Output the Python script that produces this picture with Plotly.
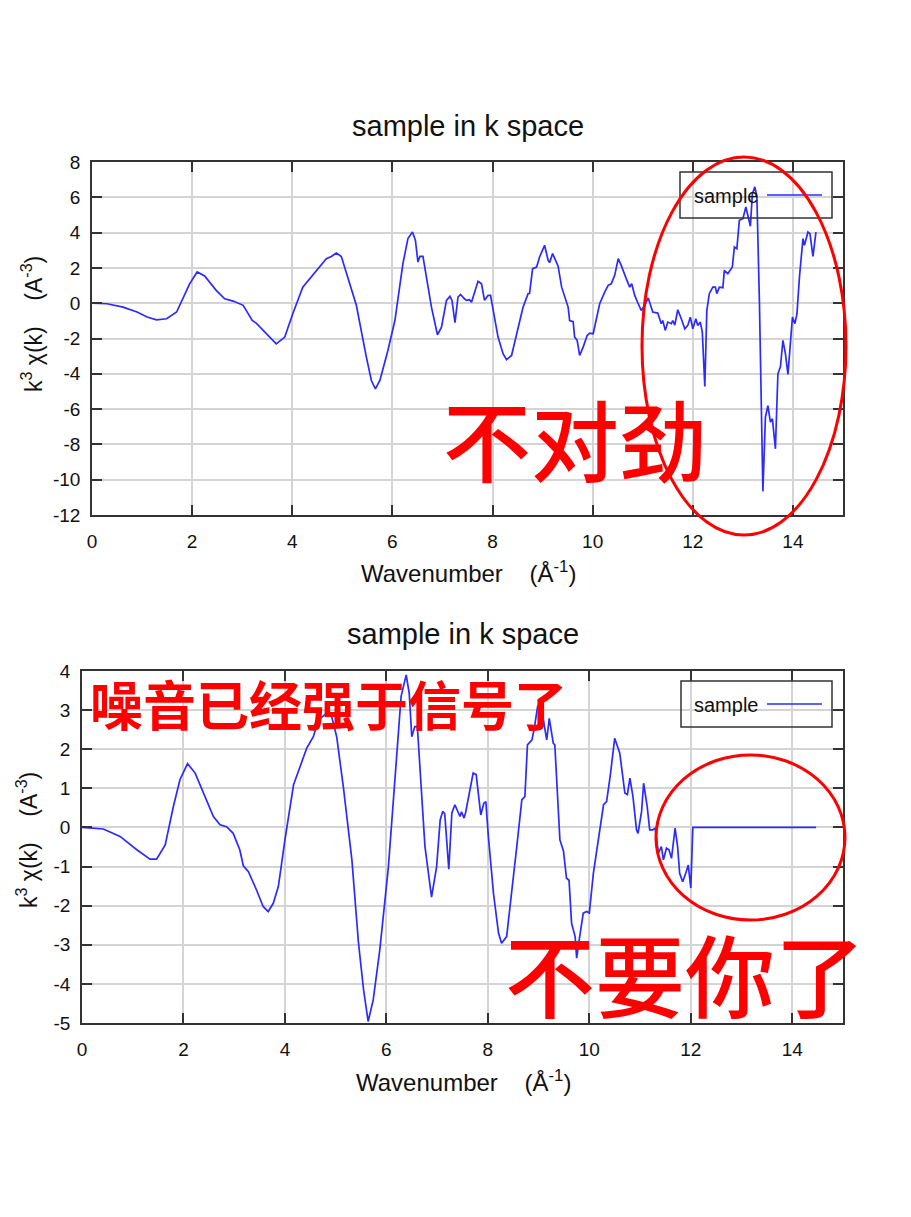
import plotly.graph_objects as go

# ---------------- data ----------------
k_top = [0, 0.3, 0.62, 0.9, 1.1, 1.29, 1.49, 1.69, 1.95, 2.1, 2.25, 2.48, 2.65, 2.82, 3.02, 3.2, 3.28,
         3.48, 3.68, 3.85, 4.01, 4.21, 4.35, 4.55, 4.68, 4.78, 4.88, 4.98, 5.15, 5.28, 5.48, 5.58, 5.66,
         5.75, 5.91, 6.05, 6.21, 6.31, 6.4, 6.46, 6.51, 6.55, 6.61, 6.68, 6.78, 6.9, 6.98, 7.08, 7.15,
         7.19, 7.25, 7.31, 7.36, 7.44, 7.48, 7.54, 7.58, 7.71, 7.78, 7.84, 7.91, 7.96, 8.01, 8.11, 8.21,
         8.28, 8.38, 8.48, 8.61, 8.71, 8.74, 8.8, 8.88, 8.94, 9.04, 9.11, 9.14, 9.2, 9.28, 9.31, 9.38,
         9.44, 9.51, 9.54, 9.61, 9.64, 9.69, 9.74, 9.81, 9.89, 9.94, 10.01, 10.07, 10.14, 10.24, 10.31,
         10.37, 10.44, 10.51, 10.57, 10.67, 10.74, 10.78, 10.84, 10.91, 10.97, 11.04, 11.11, 11.2, 11.3,
         11.37, 11.4, 11.45, 11.5, 11.57, 11.6, 11.64, 11.7, 11.77, 11.84, 11.9, 11.95, 12.0, 12.06,
         12.1, 12.15, 12.19, 12.24, 12.28, 12.33, 12.4, 12.45, 12.48, 12.53, 12.6, 12.63, 12.7, 12.79,
         12.83, 12.88, 12.93, 13.0, 13.06, 13.1, 13.15, 13.19, 13.24, 13.28, 13.33, 13.4, 13.45, 13.5,
         13.55, 13.59, 13.65, 13.7, 13.75, 13.8, 13.85, 13.9, 13.95, 13.99, 14.04, 14.08, 14.13, 14.2,
         14.23, 14.3, 14.34, 14.4, 14.46]
chi_top = [0, -0.03, -0.22, -0.5, -0.78, -0.94, -0.88, -0.5, 1.1, 1.77, 1.54, 0.73, 0.25, 0.12, -0.12,
           -0.98, -1.13, -1.73, -2.3, -1.92, -0.6, 0.91, 1.39, 2.05, 2.52, 2.65, 2.84, 2.65, 1.1, -0.12,
           -3.06, -4.38, -4.85, -4.38, -2.68, -0.98, 2.24, 3.66, 4.03, 3.56, 2.33, 2.65, 2.65, 1.48,
           -0.22, -1.79, -1.36, 0.16, 0.39, 0.16, -1.1, 0.35, 0.5, 0.25, 0.16, 0.2, 0.06, 1.24, 1.1,
           0.16, 0.44, 0.44, -0.31, -1.92, -2.86, -3.2, -2.96, -1.73, -0.22, 0.54, 0.56, 1.96, 2.05,
           2.62, 3.28, 2.43, 2.3, 2.81, 2.24, 2.1, 0.91, 0.35, -0.22, -0.98, -1.05, -1.92, -2.1, -2.96,
           -2.49, -1.83, -1.7, -1.73, -0.9, -0.03, 0.63, 1.01, 1.1, 1.58, 2.52, 2.14, 1.39, 0.91, 1.1,
           0.44, -0.03, -0.41, -0.12, 0.3, -0.5, -0.56, -1.16, -0.98, -1.54, -1.07, -1.16, -0.98, -1.24,
           -0.37, -0.88, -1.45, -1.26, -0.79, -1.45, -0.88, -1.26, -1.07, -1.64, -4.72, -0.41, 0.54,
           0.91, 0.91, 0.54, 0.91, 0.88, 1.86, 1.67, 2.05, 3.18, 3.09, 4.7, 4.79, 5.45, 4.98, 4.36,
           6.21, 6.59, 6.02, 0.16, -10.66, -6.46, -5.8, -6.74, -6.55, -8.25, -4.0, -3.6, -2.11, -2.86,
           -4.04, -1.92, -0.79, -1.16, -0.6, 1.48, 3.66, 3.28, 4.03, 3.94, 2.65, 4.03]

k_bot = [0, 0.42, 0.75, 1.08, 1.34, 1.47, 1.64, 1.8, 1.93, 2.08, 2.23, 2.39, 2.59, 2.72, 2.85, 2.98,
         3.11, 3.18, 3.28, 3.44, 3.57, 3.67, 3.77, 3.87, 4.0, 4.17, 4.3, 4.43, 4.56, 4.66, 4.82, 4.92,
         5.02, 5.15, 5.32, 5.45, 5.55, 5.64, 5.74, 5.87, 6.04, 6.17, 6.29, 6.39, 6.45, 6.5, 6.56, 6.61,
         6.66, 6.76, 6.89, 6.99, 7.06, 7.11, 7.15, 7.23, 7.29, 7.35, 7.42, 7.45, 7.48, 7.53, 7.56, 7.65,
         7.71, 7.77, 7.82, 7.86, 7.92, 7.96, 8.01, 8.11, 8.21, 8.27, 8.37, 8.47, 8.57, 8.67, 8.73, 8.78,
         8.87, 8.92, 8.98, 9.04, 9.07, 9.1, 9.16, 9.21, 9.29, 9.32, 9.42, 9.49, 9.55, 9.6, 9.65, 9.72,
         9.75, 9.81, 9.88, 9.95, 10.0, 10.08, 10.18, 10.28, 10.34, 10.41, 10.5, 10.6, 10.7, 10.75, 10.8,
         10.86, 10.93, 10.96, 11.03, 11.07, 11.14, 11.19, 11.25, 11.3, 11.36, 11.42, 11.46, 11.52,
         11.57, 11.62, 11.69, 11.74, 11.78, 11.84, 11.9, 11.95, 12.0, 12.04, 14.47]
chi_bot = [0, -0.04, -0.23, -0.57, -0.81, -0.81, -0.45, 0.53, 1.22, 1.63, 1.39, 0.88, 0.28, 0.07, 0.02,
           -0.15, -0.57, -0.98, -1.13, -1.6, -2.02, -2.15, -1.94, -1.51, -0.32, 1.09, 1.58, 2.03, 2.32,
           2.75, 2.92, 2.84, 2.32, 1.05, -0.83, -2.96, -4.15, -4.96, -4.41, -3.13, -1.0, 1.3, 3.35, 3.9,
           3.43, 2.32, 2.58, 2.58, 1.56, -0.49, -1.78, -1.0, 0.19, 0.41, 0.35, -1.07, 0.37, 0.58, 0.37,
           0.28, 0.4, 0.24, 0.37, 0.96, 1.39, 1.35, 0.79, 0.32, 0.62, 0.66, -0.23, -1.68, -2.7, -2.96,
           -2.79, -1.68, -0.49, 0.71, 0.79, 2.11, 2.24, 2.58, 3.09, 3.18, 2.96, 2.7, 2.24, 2.79, 2.15,
           2.11, -0.32, -0.6, -1.3, -1.35, -2.45, -2.79, -3.34, -2.79, -2.19, -2.15, -2.19, -1.17,
           -0.32, 0.58, 0.66, 1.3, 2.28, 1.9, 0.88, 0.84, 1.26, 0.79, -0.06, -0.15, 0.41, 1.13, 0.54,
           -0.06, -0.06, -0.02, -0.66, -0.49, -0.83, -0.53, -0.57, -0.79, -0.02, -0.49, -1.17, -1.39,
           -1.17, -0.96, -1.55, 0, 0]

x_ticks = [0, 2, 4, 6, 8, 10, 12, 14]
y_ticks_top = [8, 6, 4, 2, 0, -2, -4, -6, -8, -10, -12]
y_ticks_bot = [4, 3, 2, 1, 0, -1, -2, -3, -4, -5]
series_name = "sample"
title_text = "sample in k space"
xlabel = "Wavenumber    (Å<sup>-1</sup>)"
ylabel = "k<sup>3</sup> χ(k)    (A<sup>-3</sup>)"

# ---------------- layout helpers ----------------
OFF = 8  # page body margin
W, H = 903, 1209
def px(x):
    return (x - OFF) / W
def py(y):
    return 1 - (y - OFF) / H

FONT = "Liberation Sans, Arial, sans-serif"
CJK = "Noto Sans CJK SC"
BLUE = "#2b2bff"
RED = "#ff0000"
AX = "#333333"

fig = go.Figure()
fig.add_trace(go.Scatter(x=k_top, y=chi_top, mode="lines", name=series_name,
                         line=dict(color=BLUE, width=1.7), xaxis="x", yaxis="y", showlegend=False))
fig.add_trace(go.Scatter(x=k_bot, y=chi_bot, mode="lines", name=series_name,
                         line=dict(color=BLUE, width=1.7), xaxis="x2", yaxis="y2", showlegend=False))

axis_common = dict(showline=True, linecolor=AX, linewidth=1.5, mirror="allticks",
                   ticks="inside", ticklen=10, tickwidth=1.5, tickcolor=AX,
                   showgrid=True, gridcolor="#d4d4d4", gridwidth=1.5, zeroline=False,
                   tickfont=dict(family=FONT, size=19, color="#111"), automargin=False)

def lab(vals):
    return [str(v) for v in vals]

fig.update_layout(
    width=W, height=H,
    margin=dict(l=0, r=0, t=0, b=0),
    paper_bgcolor="white", plot_bgcolor="white",
    xaxis=dict(domain=[px(92), px(843)], anchor="y", range=[0, 15], tickvals=x_ticks,
               ticktext=lab(x_ticks), ticklabelstandoff=8, **axis_common),
    yaxis=dict(domain=[py(515), py(162)], anchor="x", range=[-12, 8], tickvals=y_ticks_top,
               ticktext=lab(y_ticks_top), ticklabelstandoff=6, **axis_common),
    xaxis2=dict(domain=[px(82), px(843)], anchor="y2", range=[0, 15], tickvals=x_ticks,
                ticktext=lab(x_ticks), ticklabelstandoff=8, **axis_common),
    yaxis2=dict(domain=[py(1023), py(671)], anchor="x2", range=[-5, 4], tickvals=y_ticks_bot,
                ticktext=lab(y_ticks_bot), ticklabelstandoff=6, **axis_common),
    showlegend=False,
)

ann = []
shapes = []
# titles
ann.append(dict(x=px(468), y=py(126), text=title_text, showarrow=False, xref="paper", yref="paper",
                font=dict(family=FONT, size=29, color="#111"), xanchor="center", yanchor="middle"))
ann.append(dict(x=px(463), y=py(634), text=title_text, showarrow=False, xref="paper", yref="paper",
                font=dict(family=FONT, size=29, color="#111"), xanchor="center", yanchor="middle"))
# x labels
for xc, yc in [(468, 572), (463, 1081)]:
    ann.append(dict(x=px(xc), y=py(yc), text=xlabel, showarrow=False, xref="paper", yref="paper",
                    font=dict(family=FONT, size=24, color="#111"), xanchor="center", yanchor="middle"))
# y labels
for xc, yc in [(32, 324), (27, 840)]:
    ann.append(dict(x=px(xc), y=py(yc), text=ylabel, showarrow=False, xref="paper", yref="paper",
                    textangle=-90, font=dict(family=FONT, size=23, color="#111"),
                    xanchor="center", yanchor="middle"))

# legend boxes (text left, sample line right)
for (bx0, by0, bx1, by1, ty) in [(680, 172, 832, 218, 195), (681, 681, 832, 727, 704)]:
    shapes.append(dict(type="rect", xref="paper", yref="paper", x0=px(bx0), x1=px(bx1),
                       y0=py(by1), y1=py(by0), line=dict(color=AX, width=1.5),
                       fillcolor="rgba(0,0,0,0)", layer="above"))
    shapes.append(dict(type="line", xref="paper", yref="paper", x0=px(767), x1=px(822),
                       y0=py(ty), y1=py(ty), line=dict(color=BLUE, width=1.6), layer="above"))
    ann.append(dict(x=px(692), y=py(ty + 1), text=series_name, showarrow=False, xref="paper",
                    yref="paper", font=dict(family=FONT, size=20, color="#111"),
                    xanchor="left", yanchor="middle"))

# red ellipses
shapes.append(dict(type="circle", xref="paper", yref="paper", x0=px(642), x1=px(846),
                   y0=py(535), y1=py(157), line=dict(color=RED, width=3), layer="above"))
shapes.append(dict(type="circle", xref="paper", yref="paper", x0=px(656), x1=px(845),
                   y0=py(920), y1=py(755), line=dict(color=RED, width=3), layer="above"))

# red annotations
ann.append(dict(x=px(441), y=py(436), text="不对劲", showarrow=False, xref="paper", yref="paper",
                font=dict(family=CJK, size=88, color=RED, weight=500), xanchor="left", yanchor="middle"))
ann.append(dict(x=px(88), y=py(703), text="噪音已经强于信号了", showarrow=False, xref="paper", yref="paper",
                font=dict(family=CJK, size=53, color=RED, weight="bold"), xanchor="left", yanchor="middle"))
ann.append(dict(x=px(503), y=py(972), text="不要你了", showarrow=False, xref="paper", yref="paper",
                font=dict(family=CJK, size=90, color=RED, weight=500), xanchor="left", yanchor="middle"))

fig.update_layout(annotations=ann, shapes=shapes)
fig.write_html("out.html")
